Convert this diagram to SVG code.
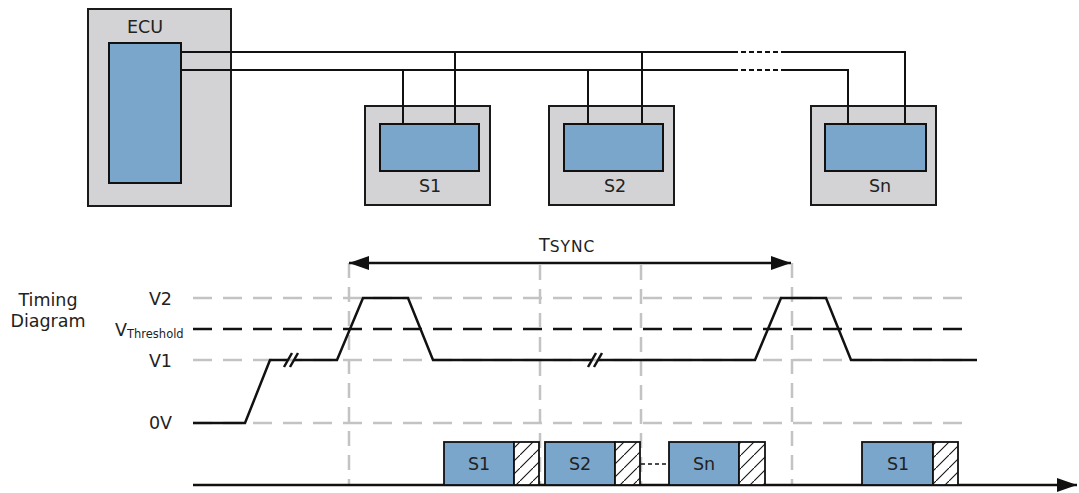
<svg xmlns="http://www.w3.org/2000/svg" width="1079" height="493" viewBox="0 0 1079 493">
<style>
.outer{fill:#d3d3d5;stroke:#1a1a1a;stroke-width:2}
.inner{fill:#7ba6cc;stroke:#111;stroke-width:2}
.wire{fill:none;stroke:#111;stroke-width:2}
.lbl{font-family:"DejaVu Sans",sans-serif;font-size:17.5px;fill:#222}
.grid{fill:none;stroke:#c3c3c3;stroke-width:2.5;stroke-dasharray:19 11}
.vgrid{fill:none;stroke:#c3c3c3;stroke-width:2.5;stroke-dasharray:15 9}
.thr{fill:none;stroke:#111;stroke-width:2.5;stroke-dasharray:19 11}
.sig{fill:none;stroke:#111;stroke-width:2.5;stroke-linejoin:miter}
.slot{fill:#7ba6cc;stroke:#111;stroke-width:1.8}
.hatch{fill:url(#hp);stroke:#111;stroke-width:1.8}
</style>
<defs>
<pattern id="hp" patternUnits="userSpaceOnUse" width="13" height="13">
<rect width="13" height="13" fill="#fff"/>
<path d="M-2,15 L15,-2" stroke="#111" stroke-width="1.1"/>
</pattern>
<marker id="ah2" viewBox="0 0 20 14" refX="20" refY="7" markerWidth="20" markerHeight="14" markerUnits="userSpaceOnUse" orient="auto-start-reverse">
<path d="M0,0 L20,7 L0,14 z" fill="#111"/>
</marker>
</defs>

<g id="ecu">
<rect class="outer" x="88" y="9" width="143" height="197"/>
<rect class="inner" x="109" y="43" width="72" height="140"/>
<text class="lbl" x="145" y="33" text-anchor="middle">ECU</text>
</g>
<g id="s1">
<rect class="outer" x="365" y="106" width="125" height="99"/>
<rect class="inner" x="380" y="124" width="99" height="47"/>
<text class="lbl" x="430" y="192" text-anchor="middle">S1</text>
</g>
<g id="s2">
<rect class="outer" x="549" y="106" width="125" height="99"/>
<rect class="inner" x="564" y="124" width="99" height="47"/>
<text class="lbl" x="615" y="192" text-anchor="middle">S2</text>
</g>
<g id="sn">
<rect class="outer" x="811" y="106" width="125" height="99"/>
<rect class="inner" x="825" y="124" width="101" height="47"/>
<text class="lbl" x="880" y="192" text-anchor="middle">Sn</text>
</g>

<g id="connectors">
<path class="wire" d="M181,52 H733 M783,52 H905 V123"/>
<path class="wire" d="M181,70 H733 M783,70 H848 V123"/>
<path class="wire" d="M733,52 H783 M733,70 H783" stroke-dasharray="5 3"/>
<path class="wire" d="M403,70 V123 M455,52 V123 M588,70 V123 M642,52 V123"/>
</g>

<g id="timing">
<text class="lbl" x="48" y="306" text-anchor="middle" font-size="18.5">Timing</text>
<text class="lbl" x="48" y="327" text-anchor="middle" font-size="18.5">Diagram</text>
<text class="lbl" x="172" y="305" text-anchor="end">V2</text>
<text class="lbl" x="115" y="336">V<tspan font-size="11.5" dy="2">Threshold</tspan></text>
<text class="lbl" x="172" y="367" text-anchor="end">V1</text>
<text class="lbl" x="172" y="429" text-anchor="end">0V</text>

<path class="grid" d="M193,298 H967 M193,360 H967 M193,423 H967"/>
<path class="thr" d="M193,329 H967"/>
<path class="vgrid" d="M349,263 V485 M540,265 V485 M641,265 V485 M792,263 V485"/>

<line x1="349" y1="263" x2="791" y2="263" stroke="#111" stroke-width="2.5" marker-start="url(#ah2)" marker-end="url(#ah2)"/>
<text class="lbl" x="539" y="251" font-size="22">T<tspan font-size="15.5" letter-spacing="1" dy="1">SYNC</tspan></text>

<path class="sig" d="M193,423 H245 L270,360 H288"/>
<path class="sig" d="M294,360 H337 L363,298 H408 L433,360 H592"/>
<path class="sig" d="M598,360 H755 L781,298 H826 L851,360 H977"/>
<path class="sig" d="M284,367 L292,353 M290,367 L298,353 M588,367 L596,353 M594,367 L602,353" stroke-width="1.8"/>

<line x1="193" y1="485" x2="1077" y2="485" stroke="#111" stroke-width="2.5" marker-end="url(#ah2)"/>
<rect class="slot" x="444" y="442" width="70" height="43"/>
<rect class="hatch" x="514" y="442" width="25" height="43"/>
<text class="lbl" x="479" y="470" text-anchor="middle">S1</text>
<rect class="slot" x="545" y="442" width="70" height="43"/>
<rect class="hatch" x="615" y="442" width="25" height="43"/>
<text class="lbl" x="580" y="470" text-anchor="middle">S2</text>
<path d="M641,464 H669" stroke="#111" stroke-width="1.5" stroke-dasharray="4 3"/>
<rect class="slot" x="669" y="442" width="70" height="43"/>
<rect class="hatch" x="739" y="442" width="26" height="43"/>
<text class="lbl" x="704" y="470" text-anchor="middle">Sn</text>
<rect class="slot" x="862" y="442" width="71" height="43"/>
<rect class="hatch" x="933" y="442" width="25" height="43"/>
<text class="lbl" x="898" y="470" text-anchor="middle">S1</text>
</g>
</svg>
